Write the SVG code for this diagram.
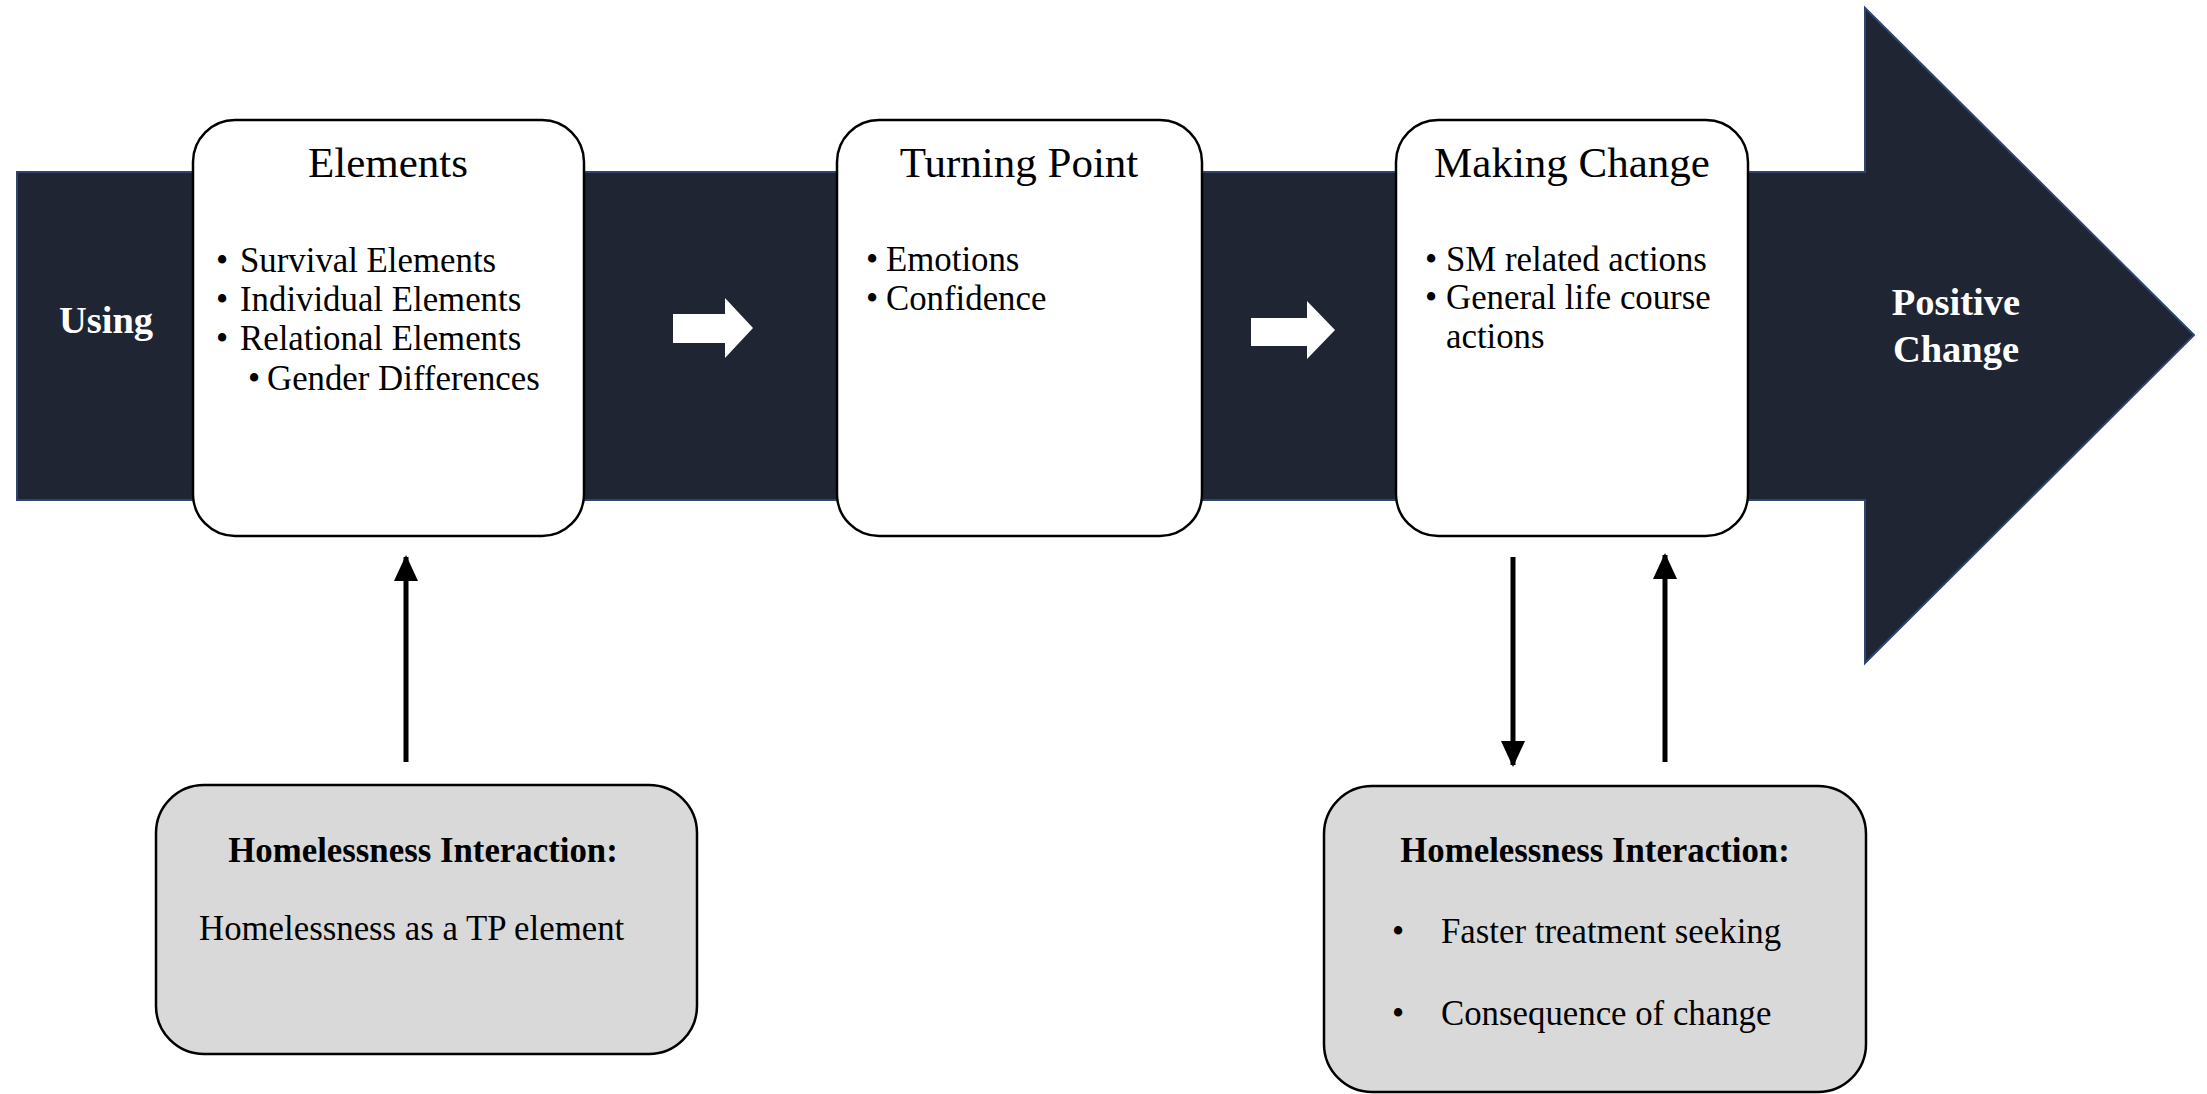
<svg xmlns="http://www.w3.org/2000/svg" width="2207" height="1094" viewBox="0 0 2207 1094">
<style>
.band{fill:#1f2533;stroke:#2e4570;stroke-width:2}
.card{fill:#ffffff;stroke:#000;stroke-width:2.5}
.gray{fill:#d9d9d9;stroke:#000;stroke-width:2.5}
.title{font-family:"Liberation Serif",serif;font-size:43px;fill:#000;text-anchor:middle}
.body{font-family:"Liberation Serif",serif;font-size:34.8px;fill:#000}
.bold{font-family:"Liberation Serif",serif;font-size:34.8px;font-weight:bold;fill:#000;text-anchor:middle}
.wlabel{font-family:"Liberation Serif",serif;font-size:38.5px;font-weight:bold;fill:#ffffff;text-anchor:middle}
.conn{stroke:#000;stroke-width:5;fill:none}
.flow{fill:#ffffff}
</style>
<defs>
<marker id="ah" markerUnits="userSpaceOnUse" markerWidth="26" markerHeight="24" viewBox="0 0 26 24" refX="24" refY="12" orient="auto">
<path d="M0,0 L26,12 L0,24 Z" fill="#000"/>
</marker>
</defs>
<rect width="2207" height="1094" fill="#ffffff"/>
<g id="band">
<polygon class="band" points="17,172 1865,172 1865,8 2194,335 1865,663 1865,500 17,500"/>
<text class="wlabel" x="106" y="333">Using</text>
<text class="wlabel" x="1956" y="315">Positive</text>
<text class="wlabel" x="1956" y="362">Change</text>
</g>
<g id="flow-arrows">
<polygon class="flow" points="673,314 725,314 725,298 753,328 725,358 725,343 673,343"/>
<polygon class="flow" points="1251,318 1307,318 1307,301 1335,330 1307,359 1307,346 1251,346"/>
</g>
<g id="elements">
<rect class="card" x="193" y="120" width="391" height="416" rx="42"/>
<text class="title" x="388" y="177">Elements</text>
<text class="body" x="216" y="272">•</text><text class="body" x="240" y="272">Survival Elements</text>
<text class="body" x="216" y="311">•</text><text class="body" x="240" y="311">Individual Elements</text>
<text class="body" x="216" y="350">•</text><text class="body" x="240" y="350">Relational Elements</text>
<text class="body" x="248" y="390">•</text><text class="body" x="267" y="390">Gender Differences</text>
</g>
<g id="turning-point">
<rect class="card" x="837" y="120" width="365" height="416" rx="42"/>
<text class="title" x="1019" y="177">Turning Point</text>
<text class="body" x="866" y="271">•</text><text class="body" x="886" y="271">Emotions</text>
<text class="body" x="866" y="310">•</text><text class="body" x="886" y="310">Confidence</text>
</g>
<g id="making-change">
<rect class="card" x="1396" y="120" width="352" height="416" rx="42"/>
<text class="title" x="1572" y="177">Making Change</text>
<text class="body" x="1425" y="271">•</text><text class="body" x="1446" y="271">SM related actions</text>
<text class="body" x="1425" y="309">•</text><text class="body" x="1446" y="309">General life course</text>
<text class="body" x="1446" y="348">actions</text>
</g>
<g id="homelessness-left">
<rect class="gray" x="156" y="785" width="541" height="269" rx="48"/>
<text class="bold" x="423" y="862">Homelessness Interaction:</text>
<text class="body" x="199" y="940">Homelessness as a TP element</text>
</g>
<g id="homelessness-right">
<rect class="gray" x="1324" y="786" width="542" height="306" rx="48"/>
<text class="bold" x="1595" y="862">Homelessness Interaction:</text>
<text class="body" x="1392" y="943">•</text><text class="body" x="1441" y="943">Faster treatment seeking</text>
<text class="body" x="1392" y="1025">•</text><text class="body" x="1441" y="1025">Consequence of change</text>
</g>
<g id="connectors">
<line class="conn" x1="406" y1="762" x2="406" y2="557" marker-end="url(#ah)"/>
<line class="conn" x1="1513" y1="557" x2="1513" y2="765" marker-end="url(#ah)"/>
<line class="conn" x1="1665" y1="762" x2="1665" y2="555" marker-end="url(#ah)"/>
</g>
</svg>
